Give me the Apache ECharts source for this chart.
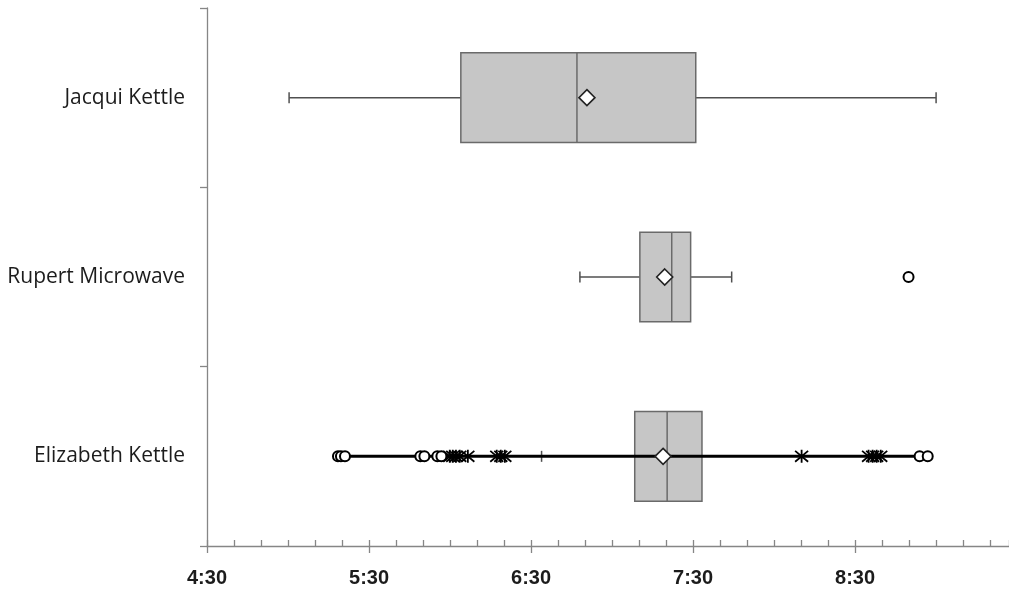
<!DOCTYPE html>
<html>
<head>
<meta charset="utf-8">
<script src="https://cdn.jsdelivr.net/npm/echarts@6/dist/echarts.min.js"></script>
<style>
  html, body { margin: 0; padding: 0; background: #fff; }
  #chart { width: 1009px; height: 591px; }
</style>
</head>
<body>
<div id="chart"></div>
<script>
// Times are minutes after midnight.
const categories = ['Jacqui Kettle', 'Rupert Microwave', 'Elizabeth Kettle'];

// [low whisker, Q1, median, Q3, high whisker]
const jacquiStats = [300.4, 364.0, 407.0, 451.0, 540.0];
const rupertStats = [408.1, 430.3, 442.1, 449.1, 464.3];
const elizabethStats = [393.9, 428.4, 440.4, 453.3, 453.3];

const means = [410.7, 439.5, 438.9];

const rupertOutliers = [529.8];
const elizabethCircles = [318.5, 319.6, 321.1, 349.0, 350.5, 355.3, 356.8, 533.9, 536.9];
const elizabethStars = [359.9, 361.0, 362.2, 363.6, 366.6, 377.3, 378.8, 380.3, 490.2, 515.0, 516.5, 518.0, 519.5];

const axisMin = 270;   // 4:30
const axisMax = 567;
const majorStep = 60;
const minorStep = 10;

function fmtTime(v) {
  const h = Math.floor(v / 60);
  const m = Math.round(v - h * 60);
  return h + ':' + (m < 10 ? '0' : '') + m;
}

const statsRows = [jacquiStats, rupertStats, elizabethStats].map((s, i) => [i].concat(s));

const AXIS_COLOR = '#868686';
const TEXT_COLOR = '#1c1c1c';
const FONT = '"Liberation Sans", Arial, sans-serif';
const CAT_FONT = '"Open Sans", "Liberation Sans", sans-serif';
const STAR = 'path://M0,0L10,10M10,0L0,10M5,-1L5,11';

const chart = echarts.init(document.getElementById('chart'), null, { renderer: 'canvas' });

function renderBox(params, api) {
  const cat = api.value(0);
  const low = api.coord([api.value(1), cat]);
  const q1 = api.coord([api.value(2), cat]);
  const med = api.coord([api.value(3), cat]);
  const q3 = api.coord([api.value(4), cat]);
  const high = api.coord([api.value(5), cat]);
  const band = api.size([0, 1])[1];
  const halfBox = band * 0.25;
  const cap = 5.5;
  const y = q1[1];
  const whisker = { stroke: '#505050', lineWidth: 1.5 };
  const children = [
    { type: 'line', shape: { x1: low[0], y1: y, x2: q1[0], y2: y }, style: whisker },
    { type: 'line', shape: { x1: low[0], y1: y - cap, x2: low[0], y2: y + cap }, style: whisker }
  ];
  if (api.value(5) > api.value(4)) {
    children.push(
      { type: 'line', shape: { x1: q3[0], y1: y, x2: high[0], y2: y }, style: whisker },
      { type: 'line', shape: { x1: high[0], y1: y - cap, x2: high[0], y2: y + cap }, style: whisker }
    );
  }
  children.push(
    { type: 'rect', shape: { x: q1[0], y: y - halfBox, width: q3[0] - q1[0], height: halfBox * 2 },
      style: { fill: '#c6c6c6', stroke: '#6a6a6a', lineWidth: 1.5 } },
    { type: 'line', shape: { x1: med[0], y1: y - halfBox, x2: med[0], y2: y + halfBox },
      style: { stroke: '#6a6a6a', lineWidth: 1.5 } }
  );
  return { type: 'group', children: children };
}

const elizabethAll = elizabethCircles.concat(elizabethStars).sort((a, b) => a - b);

chart.setOption({
  animation: false,
  backgroundColor: '#ffffff',
  grid: { left: 207, right: 0, top: 8, bottom: 45, containLabel: false },
  xAxis: [
    {
      type: 'value', position: 'bottom', min: axisMin, max: axisMax, interval: majorStep,
      axisLine: { show: true, lineStyle: { color: AXIS_COLOR, width: 1.3 } },
      axisTick: { show: true, inside: false, length: 7, lineStyle: { color: AXIS_COLOR, width: 1.3 } },
      axisLabel: {
        show: true, formatter: fmtTime, showMaxLabel: false, margin: 22,
        color: TEXT_COLOR, fontFamily: FONT, fontWeight: 'bold', fontSize: 20
      },
      splitLine: { show: false }
    },
    {
      type: 'value', position: 'bottom', min: axisMin, max: axisMax, interval: minorStep,
      axisLine: { show: false },
      axisTick: { show: true, inside: true, length: 6, lineStyle: { color: AXIS_COLOR, width: 1.3 } },
      axisLabel: { show: false },
      splitLine: { show: false }
    }
  ],
  yAxis: {
    type: 'category', data: categories, inverse: true, boundaryGap: true,
    axisLine: { show: true, lineStyle: { color: AXIS_COLOR, width: 1.3 } },
    axisTick: { show: true, inside: false, length: 7, alignWithLabel: false, lineStyle: { color: AXIS_COLOR, width: 1.3 } },
    axisLabel: { margin: 22, color: TEXT_COLOR, fontFamily: CAT_FONT, fontSize: 21 },
    splitLine: { show: false }
  },
  series: [
    {
      type: 'custom', renderItem: renderBox, data: statsRows,
      encode: { x: [1, 2, 3, 4, 5], y: 0 }, z: 2
    },
    {
      type: 'line', data: elizabethAll.map(v => [v, 2]), showSymbol: false,
      lineStyle: { color: '#000', width: 3 }, z: 3
    },
    {
      type: 'scatter', symbol: 'circle', symbolSize: 10,
      data: rupertOutliers.map(v => [v, 1]).concat(elizabethCircles.map(v => [v, 2])),
      itemStyle: { color: '#ffffff', borderColor: '#000', borderWidth: 2, opacity: 1 }, z: 4
    },
    {
      type: 'scatter', symbol: STAR, symbolSize: 13,
      data: elizabethStars.map(v => [v, 2]),
      itemStyle: { color: 'rgba(0,0,0,0)', borderColor: '#000', borderWidth: 1.8, opacity: 1 }, z: 4
    },
    {
      type: 'scatter', symbol: 'diamond', symbolSize: 16,
      data: means.map((v, i) => [v, i]),
      itemStyle: { color: '#ffffff', borderColor: '#222', borderWidth: 1.6, opacity: 1 }, z: 5
    }
  ]
});
</script>
</body>
</html>
